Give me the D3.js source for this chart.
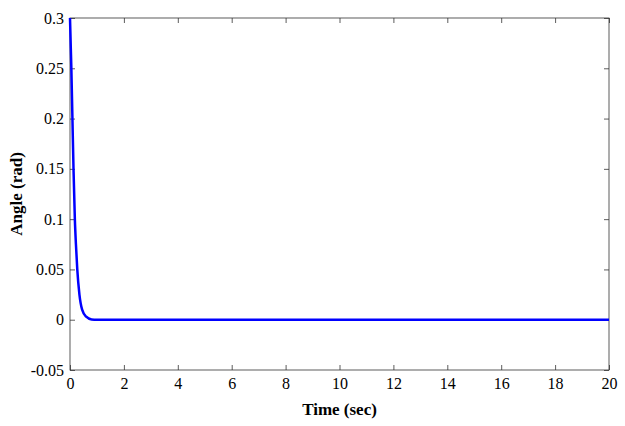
<!DOCTYPE html><html><head><script src="https://d3js.org/d3.v7.min.js"></script>
<style>body{margin:0;background:#fff}text{font-family:"Liberation Serif",serif}</style></head><body>
<svg id="c" width="625" height="426"></svg>
<script>
const times=[0,0.03,0.05,0.09,0.13,0.18,0.22,0.27,0.35,0.45,0.6,0.8,1,5,10,15,20];
const angles=[0.3,0.27,0.25,0.2,0.15,0.1,0.075,0.05,0.025,0.01,0.003,0.0003,0,0,0,0,0];
const xTicks=[0,2,4,6,8,10,12,14,16,18,20];
const yTicks=[-0.05,0,0.05,0.1,0.15,0.2,0.25,0.3];
const svg=d3.select("#c");
const L=70,R=609,T=18,B=370;
const x=d3.scaleLinear().domain([0,20]).range([L,R]);
const y=d3.scaleLinear().domain([-0.05,0.3]).range([B,T]);
svg.append("rect").attr("x",L).attr("y",T).attr("width",R-L).attr("height",B-T).attr("fill","none").attr("stroke","#333").attr("stroke-width",0.8);
const fmt=d=>d===0?"0":String(d);
const gx=svg.append("g").attr("transform",`translate(0,${B})`).call(d3.axisBottom(x).tickValues(xTicks).tickFormat(fmt).tickSize(-5).tickPadding(8));
const gx2=svg.append("g").attr("transform",`translate(0,${T})`).call(d3.axisTop(x).tickValues(xTicks).tickFormat("").tickSize(-5));
const gy=svg.append("g").attr("transform",`translate(${L},0)`).call(d3.axisLeft(y).tickValues(yTicks).tickFormat(fmt).tickSize(-5).tickPadding(6));
const gy2=svg.append("g").attr("transform",`translate(${R},0)`).call(d3.axisRight(y).tickValues(yTicks).tickFormat("").tickSize(-5));
[gx,gx2,gy,gy2].forEach(g=>{g.attr("font-family","Liberation Serif").attr("font-size",16);g.select(".domain").remove();g.selectAll("line").attr("stroke","#333").attr("stroke-width",0.8);g.selectAll("text").attr("fill","#000");});
svg.append("path").datum(times.map((t,i)=>[t,angles[i]])).attr("fill","none").attr("stroke","#0000ff").attr("stroke-width",2.5)
 .attr("d",d3.line().x(d=>x(d[0])).y(d=>y(d[1])).curve(d3.curveMonotoneX));
svg.append("text").attr("x",(L+R)/2).attr("y",415).attr("text-anchor","middle").attr("font-size",17).attr("font-weight","bold").text("Time (sec)");
svg.append("text").attr("transform",`translate(22,${(T+B)/2}) rotate(-90)`).attr("text-anchor","middle").attr("font-size",17).attr("font-weight","bold").text("Angle (rad)");
</script></body></html>
